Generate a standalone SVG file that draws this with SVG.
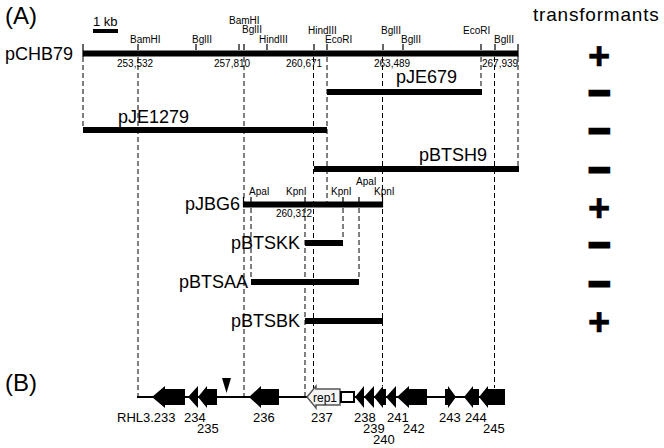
<svg xmlns="http://www.w3.org/2000/svg" width="664" height="448" viewBox="0 0 664 448">
<style>
text{font-family:"Liberation Sans",Arial,sans-serif;fill:#000}
.big{font-size:18px}
.site{font-size:10px}
.gene{font-size:13px}
.head{font-size:24px}
.bar{stroke:#000;stroke-width:6;fill:none}
.tick{stroke:#000;stroke-width:1.2;fill:none}
.dash{stroke:#000;stroke-width:1;stroke-dasharray:5 3;fill:none}
.res{font-size:38px;font-weight:bold;text-anchor:middle;stroke:#000}
.plus{stroke-width:0.6}
.minus{stroke-width:2.6}
.g{fill:#000}
</style>
<rect width="664" height="448" fill="#fff"/>
<text class="head" x="5" y="24">(A)</text>
<text class="head" x="5" y="391">(B)</text>
<text x="533" y="21" style="font-size:19px;letter-spacing:0.8px">transformants</text>
<g id="scale">
<text x="93" y="26" style="font-size:13px">1 kb</text>
<line x1="93" y1="31" x2="118" y2="31" stroke="#000" stroke-width="4"/>
</g>
<g id="connectors">
<line class="dash" x1="83" y1="57" x2="83" y2="127"/>
<line class="dash" x1="138" y1="57" x2="138" y2="396"/>
<line class="dash" x1="244" y1="57" x2="244" y2="396"/>
<line class="dash" x1="251" y1="208" x2="251" y2="279"/>
<line class="dash" x1="305" y1="208" x2="305" y2="396"/>
<line class="dash" x1="313.5" y1="57" x2="313.5" y2="396"/>
<line class="dash" x1="327" y1="57" x2="327" y2="202"/>
<line class="dash" x1="343" y1="208" x2="343" y2="240"/>
<line class="dash" x1="359" y1="208" x2="359" y2="279"/>
<line class="dash" x1="382.5" y1="57" x2="382.5" y2="386"/>
<line class="dash" x1="481" y1="57" x2="481" y2="89"/>
<line class="dash" x1="494.5" y1="57" x2="494.5" y2="388"/>
<line class="dash" x1="518" y1="57" x2="518" y2="166"/>
</g>
<g id="pCHB79">
<text class="big" x="5" y="60">pCHB79</text>
<line class="bar" x1="83" y1="53.5" x2="518" y2="53.5" stroke-width="6.5"/>
<path class="tick" d="M83,44V57M518,44V57M138,44V50M196,44V50M239,44V50M244,44V50M267,44V50M314,44V50M327,44V50M383,44V50M403,44V50M481,44V50M495,44V50"/>
<text class="site" x="130" y="43">BamHI</text>
<text class="site" x="192" y="43">BglII</text>
<text class="site" x="229" y="24">BamHI</text>
<text class="site" x="242" y="33">BglII</text>
<text class="site" x="259" y="43">HindIII</text>
<text class="site" x="308" y="34">HindIII</text>
<text class="site" x="325" y="43">EcoRI</text>
<text class="site" x="381" y="34">BglII</text>
<text class="site" x="401" y="43">BglII</text>
<text class="site" x="463" y="34">EcoRI</text>
<text class="site" x="494" y="43">BglII</text>
<text class="site" x="117" y="67">253,532</text>
<text class="site" x="214" y="67">257,810</text>
<text class="site" x="286" y="67">260,671</text>
<text class="site" x="374" y="67">263,489</text>
<text class="site" x="482" y="67">267,939</text>
<text class="res plus" x="599" y="69">+</text>
</g>
<g id="pJE679">
<text class="big" x="396" y="83">pJE679</text>
<line class="bar" x1="327" y1="92" x2="482" y2="92"/>
<text class="res minus" x="599" y="106">−</text>
</g>
<g id="pJE1279">
<text class="big" x="118" y="123">pJE1279</text>
<line class="bar" x1="83" y1="130" x2="327" y2="130"/>
<text class="res minus" x="599" y="144">−</text>
</g>
<g id="pBTSH9">
<text class="big" x="487" y="161" text-anchor="end">pBTSH9</text>
<line class="bar" x1="314" y1="169" x2="519" y2="169"/>
<text class="res minus" x="599" y="183">−</text>
</g>
<g id="pJBG6">
<text class="big" x="240" y="210" text-anchor="end">pJBG6</text>
<line class="bar" x1="243" y1="204.5" x2="383" y2="204.5"/>
<path class="tick" d="M243.5,197V207M251,197V202M305,197V202M343,197V202M359,197V202M382.5,197V207"/>
<text class="site" x="249" y="195">ApaI</text>
<text class="site" x="286" y="195">KpnI</text>
<text class="site" x="331" y="195">KpnI</text>
<text class="site" x="356" y="185">ApaI</text>
<text class="site" x="374" y="195">KpnI</text>
<text class="site" x="276" y="217">260,312</text>
<text class="res plus" x="599" y="221">+</text>
</g>
<g id="pBTSKK">
<text class="big" x="300" y="249" text-anchor="end">pBTSKK</text>
<line class="bar" x1="305" y1="243" x2="343" y2="243"/>
<text class="res minus" x="599" y="258">−</text>
</g>
<g id="pBTSAA">
<text class="big" x="248" y="288" text-anchor="end">pBTSAA</text>
<line class="bar" x1="251" y1="282" x2="359" y2="282"/>
<text class="res minus" x="599" y="297">−</text>
</g>
<g id="pBTSBK">
<text class="big" x="300" y="327" text-anchor="end">pBTSBK</text>
<line class="bar" x1="305" y1="321" x2="383" y2="321"/>
<text class="res plus" x="599" y="335">+</text>
</g>
<g id="genemap">
<line x1="137" y1="397" x2="505" y2="397" stroke="#000" stroke-width="2"/>
<polygon class="g" points="222,378 231,378 226.5,393"/>
<g id="g233"><polygon class="g" points="152,397 165,386 165,389 185,389 185,405 165,405 165,408"/><text class="gene" x="117" y="422">RHL3.233</text></g>
<g id="g234"><polygon class="g" points="188,397 198,386 198,408"/><text class="gene" x="184" y="422">234</text></g>
<g id="g235"><polygon class="g" points="198,397 207,386 207,389 217,389 217,405 207,405 207,408"/><text class="gene" x="197" y="433">235</text></g>
<g id="g236"><polygon class="g" points="249,397 261,386 261,389 279,389 279,405 261,405 261,408"/><text class="gene" x="253" y="422">236</text></g>
<g id="g237"><polygon points="307,397 316,386 316,389 340,389 340,405 316,405 316,408" fill="#f4f4f4" stroke="#555" stroke-width="1.5"/><text class="gene" x="313" y="402" style="font-size:12px">rep1</text><rect x="341" y="392" width="13" height="10" fill="#fff" stroke="#000" stroke-width="2"/><text class="gene" x="311" y="422">237</text></g>
<g id="g238"><polygon class="g" points="355,397 364,386 364,408"/><text class="gene" x="354" y="422">238</text></g>
<g id="g239"><polygon class="g" points="364,397 374,386 374,408"/><text class="gene" x="363" y="433">239</text></g>
<g id="g240"><polygon class="g" points="374,397 383,386 383,389 386,389 386,405 383,405 383,408"/><text class="gene" x="373" y="444">240</text></g>
<g id="g241"><polygon class="g" points="386,397 396,386 396,408"/><text class="gene" x="387" y="422">241</text></g>
<g id="g242"><polygon class="g" points="397,397 409,386 409,389 427,389 427,405 409,405 409,408"/><text class="gene" x="403" y="433">242</text></g>
<g id="g243"><polygon class="g" points="445,389 448,389 448,386 456,397 448,408 448,405 445,405"/><text class="gene" x="439" y="422">243</text></g>
<g id="g244"><polygon class="g" points="464,397 473,386 473,389 479,389 479,405 473,405 473,408"/><text class="gene" x="465" y="422">244</text></g>
<g id="g245"><polygon class="g" points="479,397 488,386 488,389 505,389 505,405 488,405 488,408"/><text class="gene" x="483" y="433">245</text></g>
</g>
</svg>
